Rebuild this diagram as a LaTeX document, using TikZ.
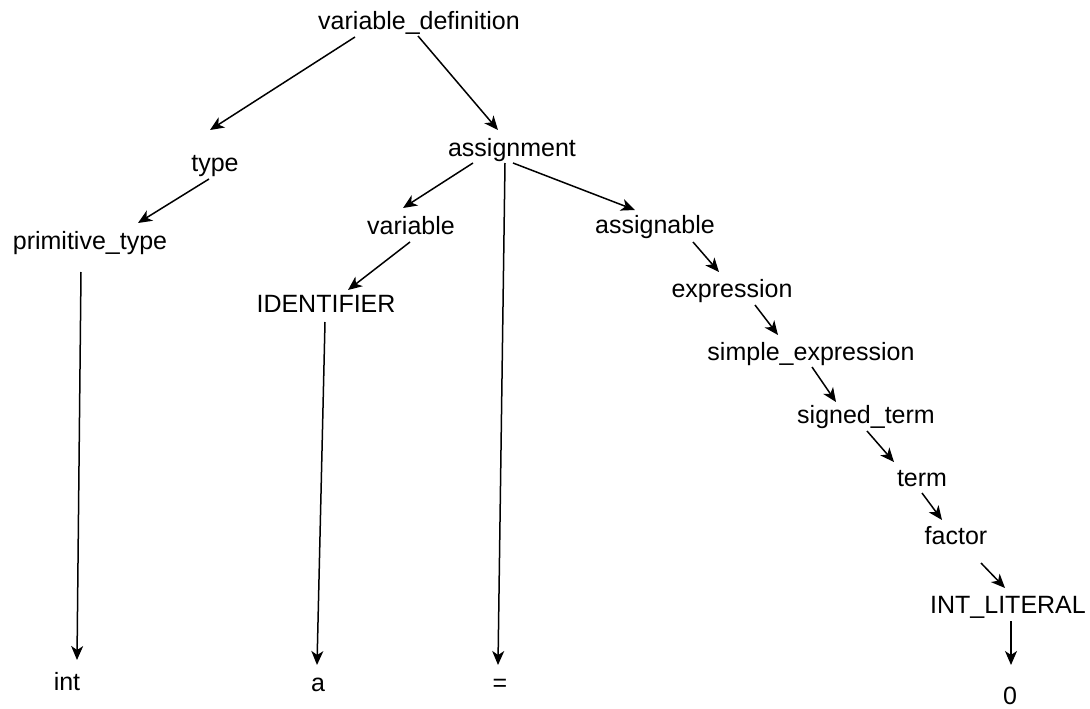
\documentclass[tikz,border=0pt]{standalone}
\usepackage{fontspec}
\setmainfont{Liberation Sans}
\usetikzlibrary{arrows.meta,calc}
\tikzset{
  lbl/.style={inner sep=0pt, text height=18pt, text depth=5pt, font=\fontsize{25}{30}\selectfont},
  arr/.style={line width=1.5pt, -{Stealth[length=14pt,width=12pt,inset=4pt]}}
}
\begin{document}
\begin{tikzpicture}[x=1pt,y=-1pt]
\useasboundingbox[fill=white] (0,0) rectangle (1090,709);
\node[lbl] (vd) at (419,23) {variable\_definition};
\node[lbl] (type) at (215,165) {type};
\node[lbl] (asg) at (512,150) {assignment};
\node[lbl] (pt) at (90,243) {primitive\_type};
\node[lbl] (var) at (411,228) {variable};
\node[lbl] (asgb) at (655,227) {assignable};
\node[lbl] (ID) at (326,306) {IDENTIFIER};
\node[lbl] (expr) at (732,291) {expression};
\node[lbl] (se) at (811,354) {simple\_expression};
\node[lbl] (st) at (866,417) {signed\_term};
\node[lbl] (term) at (922,480) {term};
\node[lbl] (factor) at (956,538) {factor};
\node[lbl] (IL) at (1008,607) {INT\_LITERAL};
\node[lbl] (int) at (67,684) {int};
\node[lbl] (a) at (318,685) {a};
\node[lbl] (eq) at (500,685) {=};
\node[lbl] (zero) at (1010,698) {0};

\draw[arr] ($(vd)+(-64,14)$) -- ($(type)+(-5,-35)$);
\draw[arr] ($(vd)+(-1,13)$) -- ($(asg)+(-14,-20)$);
\draw[arr] ($(type)+(-6,14)$) -- ($(pt)+(48,-20)$);
\draw[arr] ($(asg)+(-39,13)$) -- ($(var)+(-8,-20)$);
\draw[arr] ($(asg)+(-7,13)$) -- ($(eq)+(-2,-20)$);
\draw[arr] ($(asg)+(1,13)$) -- ($(asgb)+(-20,-17)$);
\draw[arr] ($(var)+(-1,14)$) -- ($(ID)+(22,-16)$);
\draw[arr] ($(pt)+(-9,29)$) -- ($(int)+(10,-24)$);
\draw[arr] ($(ID)+(-1,16)$) -- ($(a)+(-1,-20)$);
\draw[arr] ($(asgb)+(38,15)$) -- ($(expr)+(-13,-19)$);
\draw[arr] ($(expr)+(23,14)$) -- ($(se)+(-33,-19)$);
\draw[arr] ($(se)+(1,13)$) -- ($(st)+(-30,-15)$);
\draw[arr] ($(st)+(1,14)$) -- ($(term)+(-28,-18)$);
\draw[arr] ($(term)+(0,13)$) -- ($(factor)+(-14,-18)$);
\draw[arr] ($(factor)+(25,25)$) -- ($(IL)+(-3,-19)$);
\draw[arr] ($(IL)+(3,14)$) -- ($(zero)+(1,-33)$);
\end{tikzpicture}
\end{document}
